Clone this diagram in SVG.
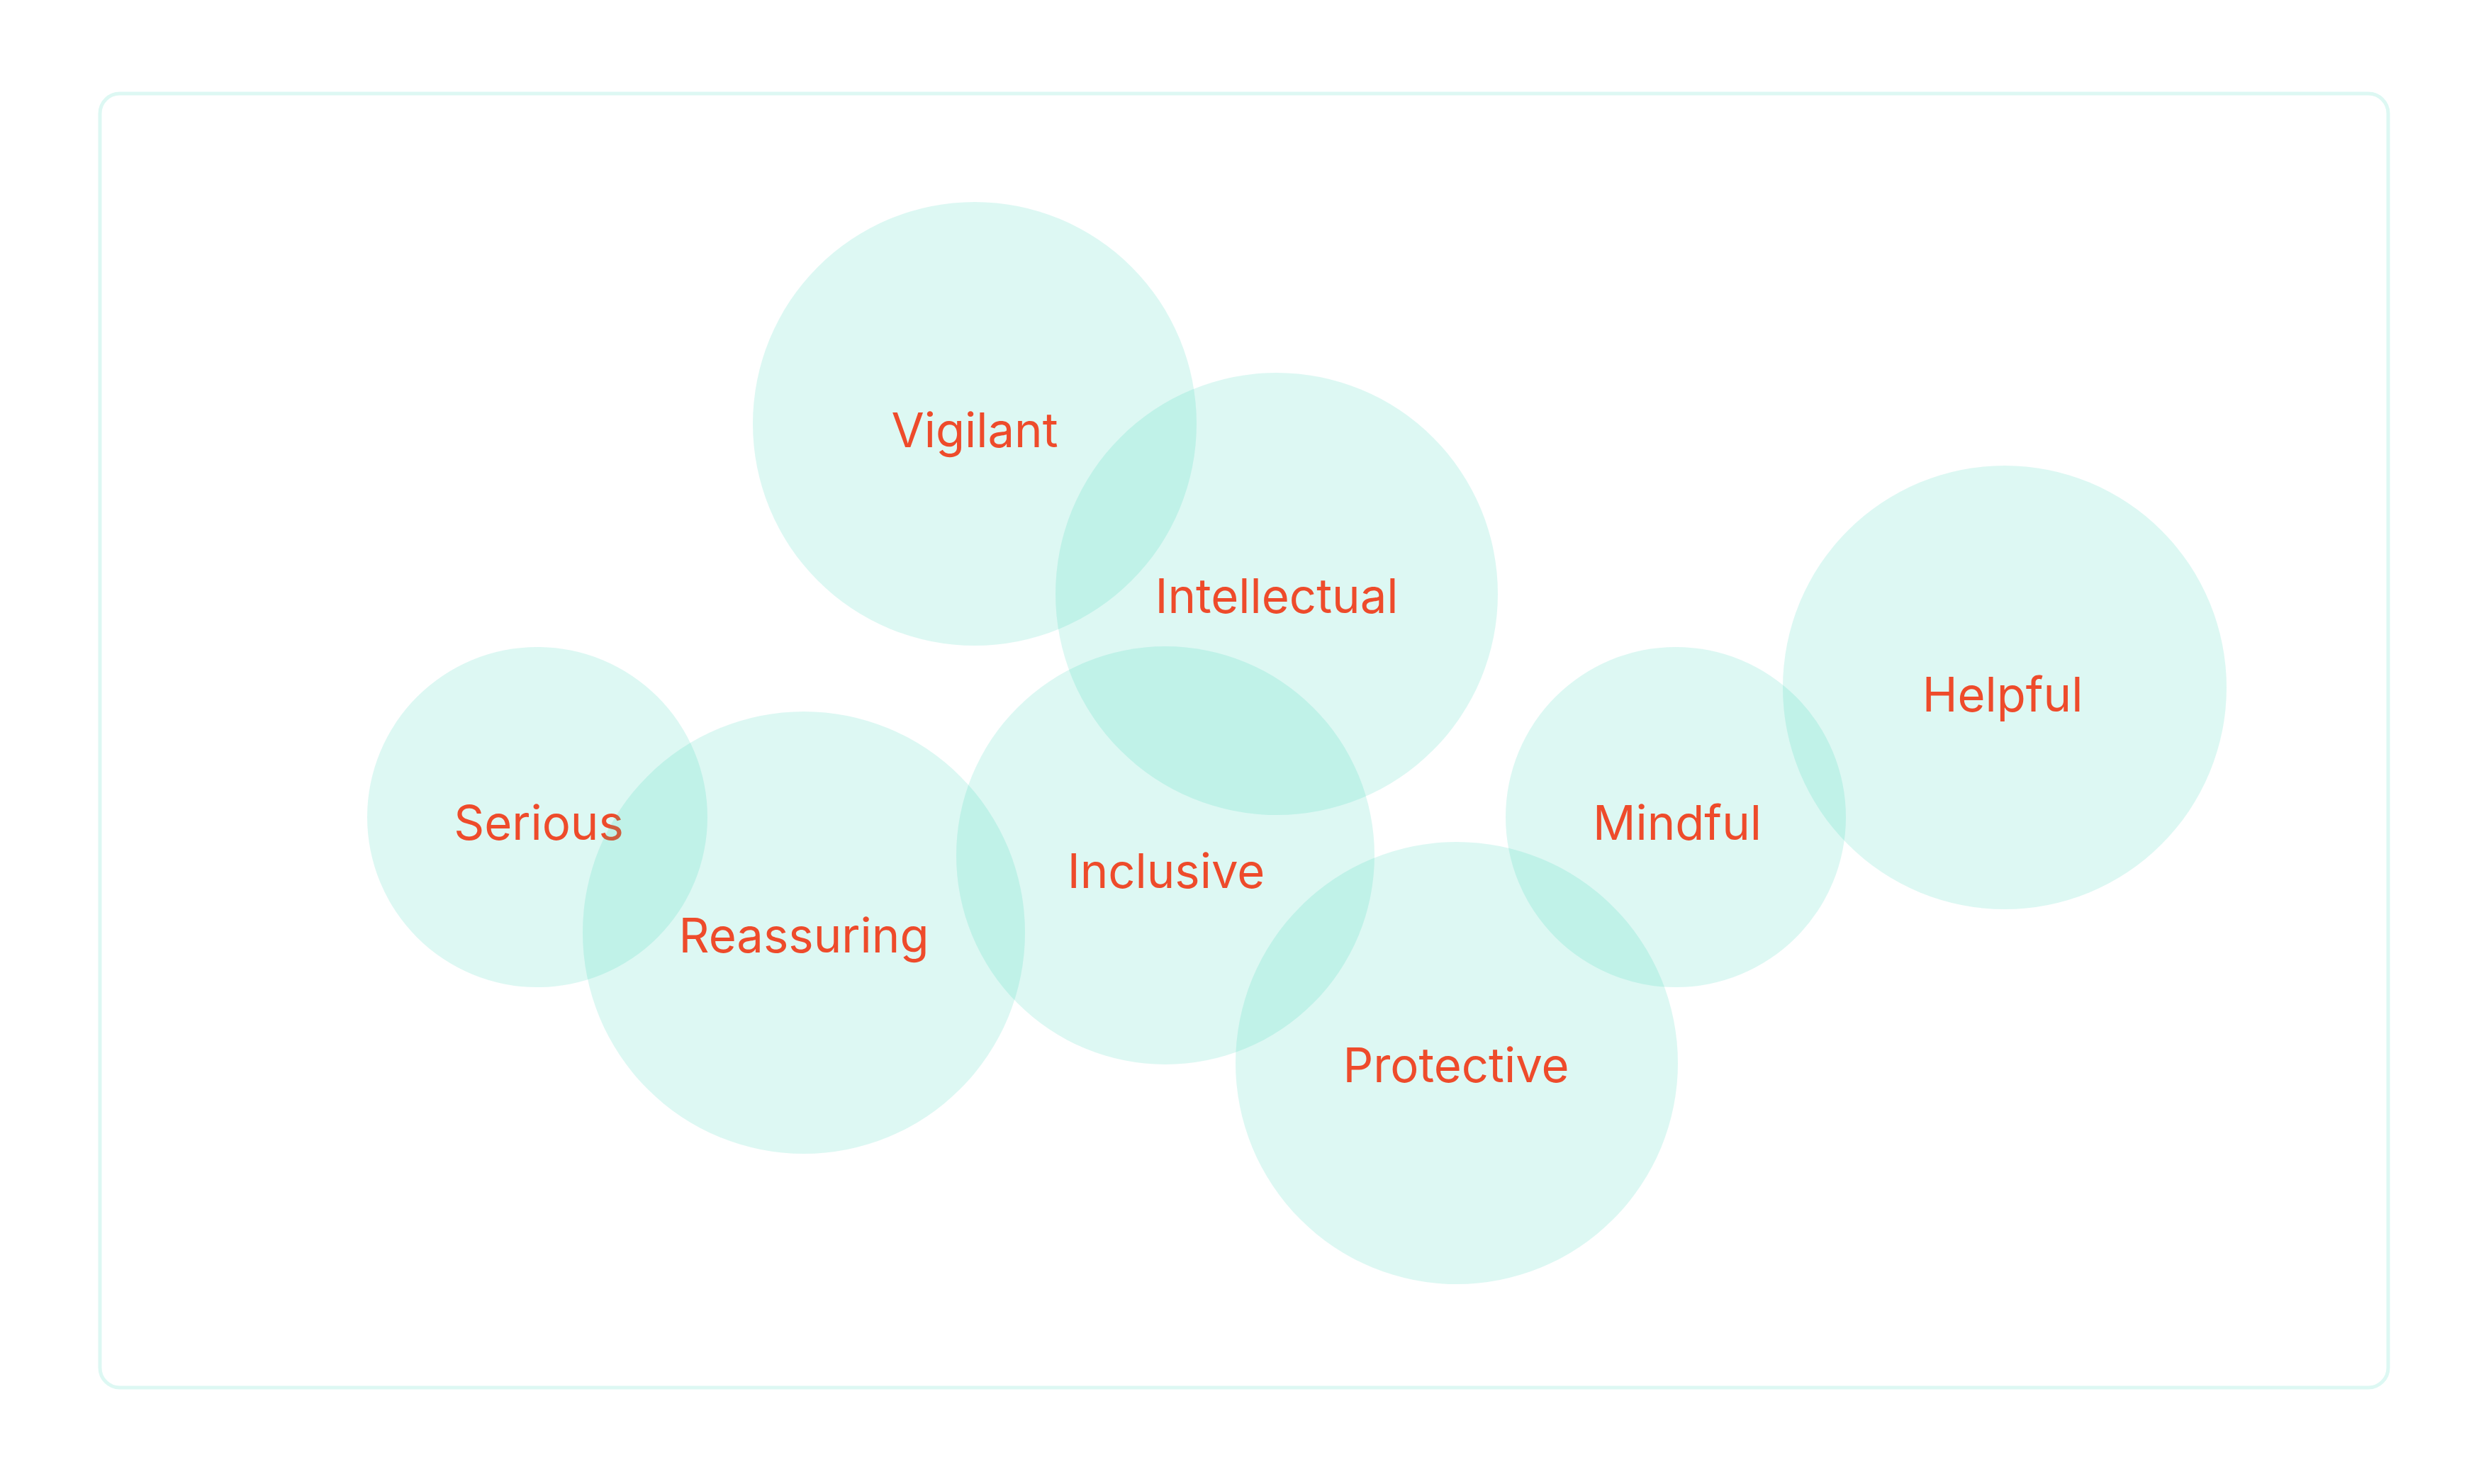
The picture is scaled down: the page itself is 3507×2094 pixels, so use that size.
<svg xmlns="http://www.w3.org/2000/svg" width="3507" height="2094" viewBox="0 0 3507 2094">
<style>
.c{fill:#1CD0AF;fill-opacity:0.15}
.t{font-family:Inter,"Liberation Sans",sans-serif;font-size:67px;fill:#EE4B2B;text-anchor:middle}
</style>
<rect width="3507" height="2094" fill="#FFFFFF"/>
<rect id="frame" x="141" y="132" width="3228" height="1826" rx="28" fill="none" stroke="#DDF8F3" stroke-width="5"/>
<g id="connectors"/>
<g id="vigilant"><circle class="c" cx="1375" cy="598" r="313"/><text class="t" x="1375" y="631">Vigilant</text></g>
<g id="intellectual"><circle class="c" cx="1801" cy="838" r="312"/><text class="t" x="1801" y="865">Intellectual</text></g>
<g id="helpful"><circle class="c" cx="2828" cy="970" r="313"/><text class="t" x="2825" y="1004">Helpful</text></g>
<g id="serious"><circle class="c" cx="758" cy="1153" r="240"/><text class="t" x="760" y="1185">Serious</text></g>
<g id="mindful"><circle class="c" cx="2364" cy="1153" r="240"/><text class="t" x="2366" y="1185">Mindful</text></g>
<g id="inclusive"><circle class="c" cx="1644" cy="1207" r="295"/><text class="t" x="1645" y="1253">Inclusive</text></g>
<g id="reassuring"><circle class="c" cx="1134" cy="1316" r="312"/><text class="t" x="1134" y="1344">Reassuring</text></g>
<g id="protective"><circle class="c" cx="2055" cy="1500" r="312"/><text class="t" x="2054" y="1527">Protective</text></g>
</svg>
